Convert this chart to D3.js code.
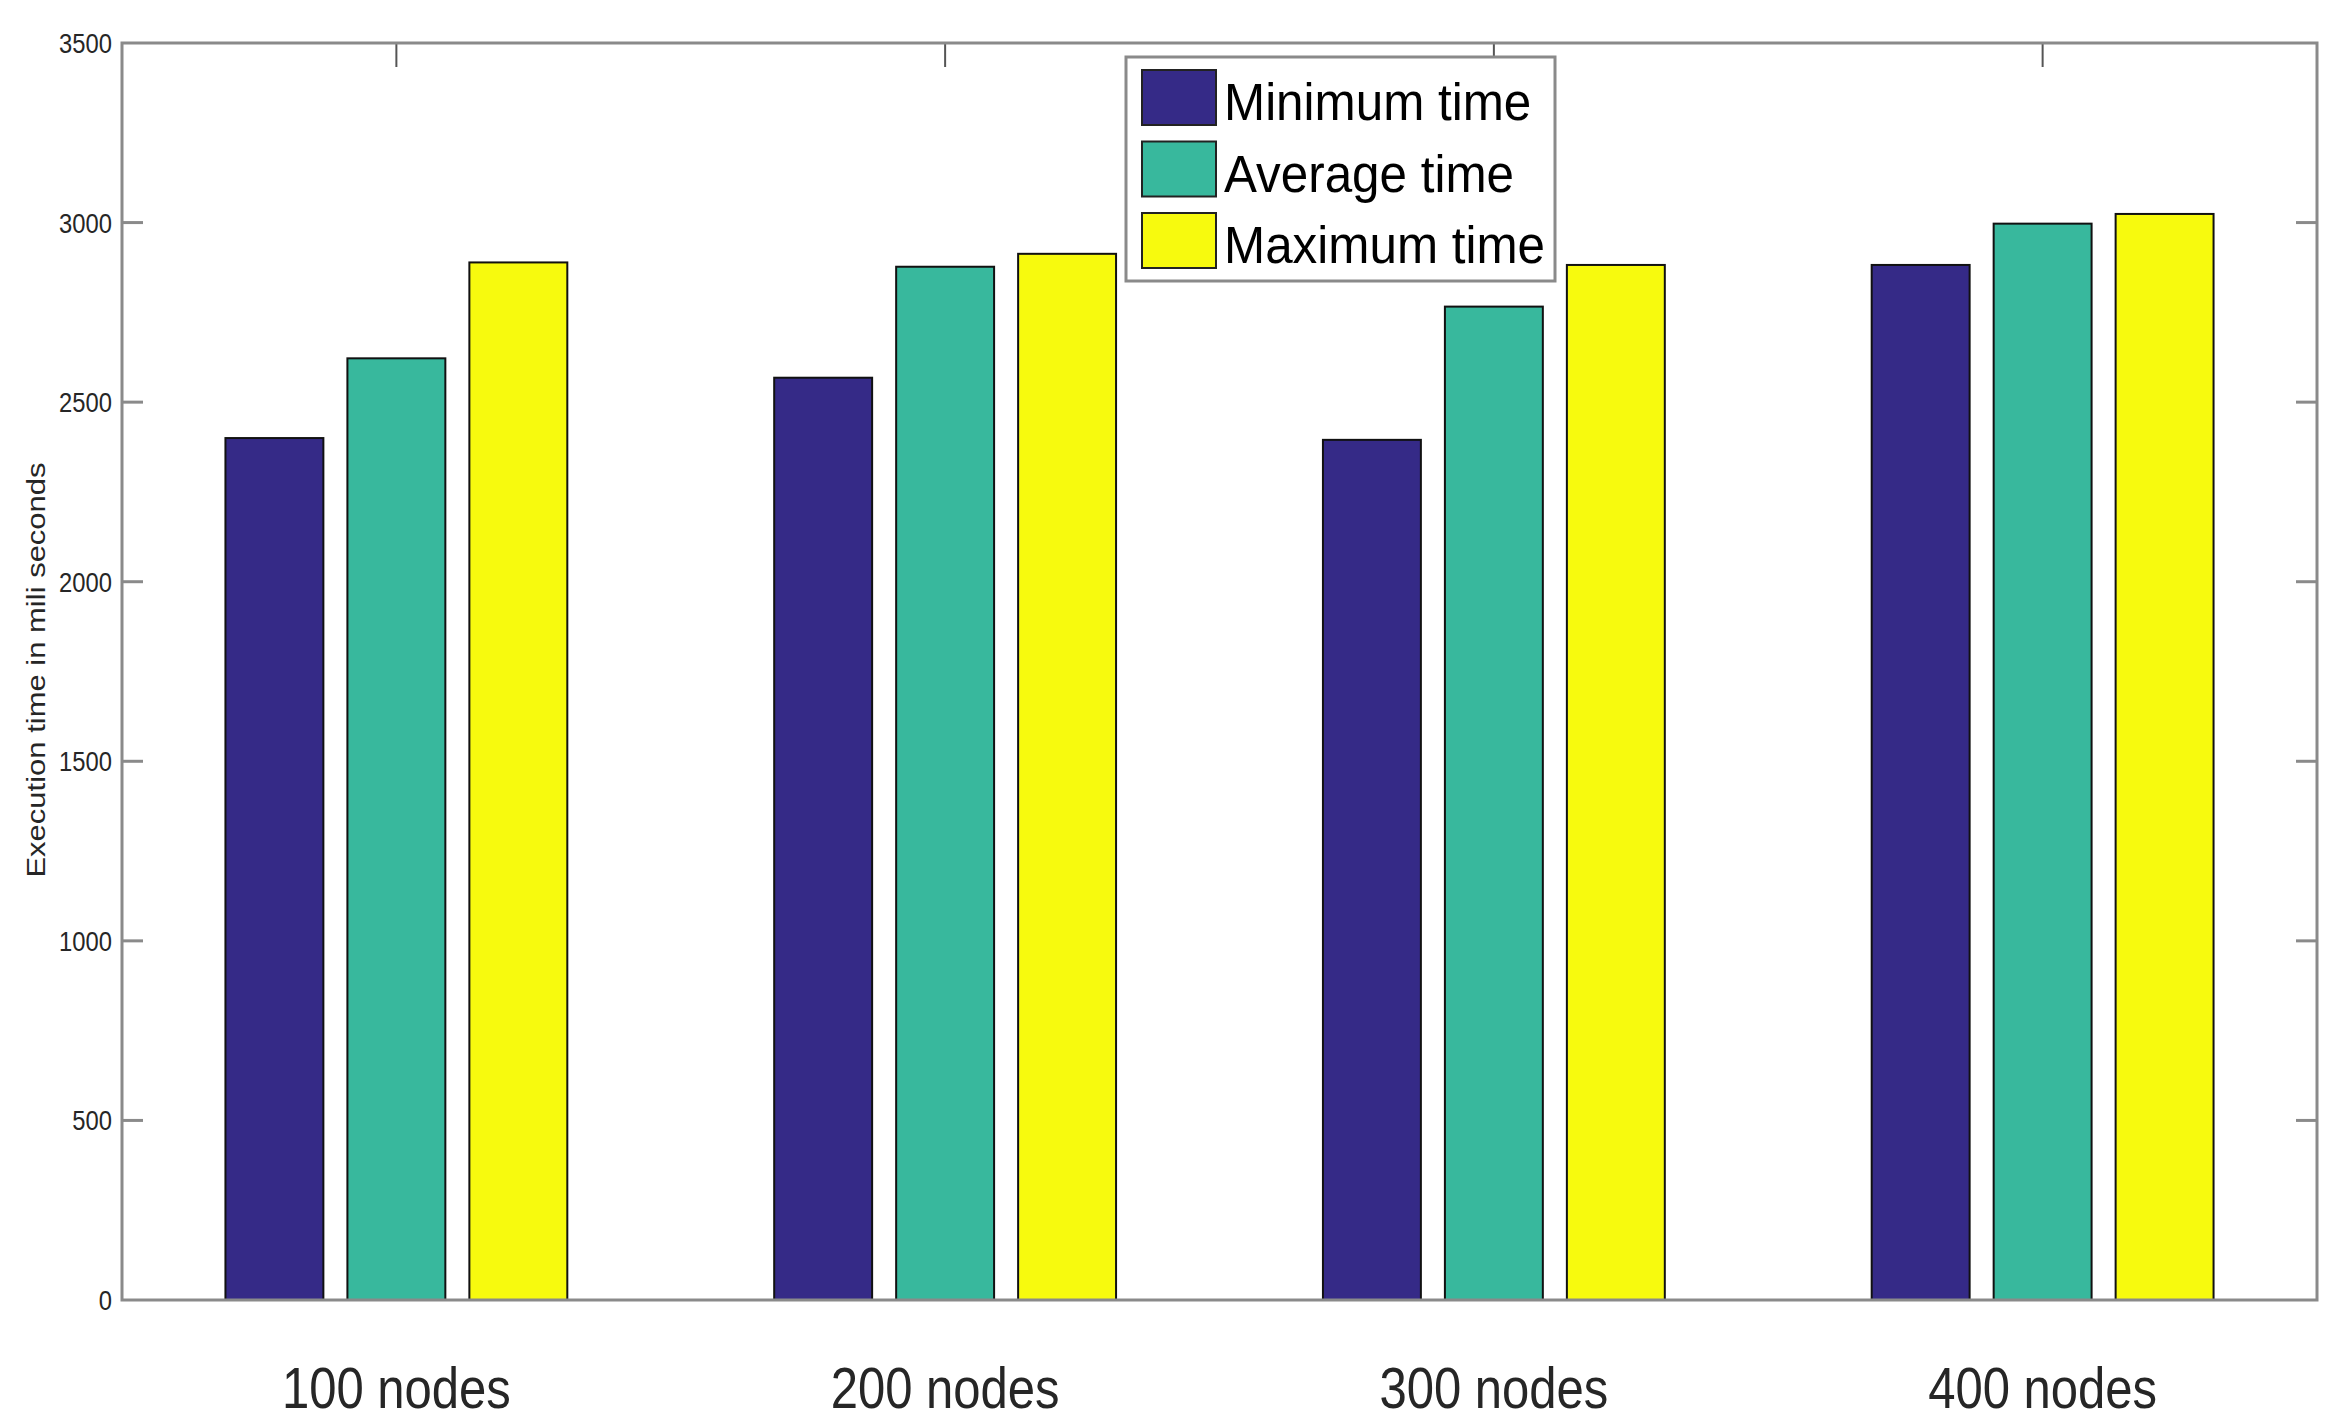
<!DOCTYPE html>
<html>
<head>
<meta charset="utf-8">
<script src="https://cdn.jsdelivr.net/npm/d3@7"></script>
<style>
  html, body { margin: 0; padding: 0; background: #ffffff; }
  svg { display: block; }
</style>
</head>
<body>
<svg id="chart" width="2352" height="1428"></svg>
<script>
// ---- data ----
const categories = ["100 nodes", "200 nodes", "300 nodes", "400 nodes"];
const seriesNames = ["Minimum time", "Average time", "Maximum time"];
const minTime = [2400, 2568, 2395, 2882];
const avgTime = [2622, 2877, 2766, 2997];
const maxTime = [2889, 2913, 2882, 3024];
const yTicks = [0, 500, 1000, 1500, 2000, 2500, 3000, 3500];
const yLabel = "Execution time in mili seconds";
const seriesColors = ["#352A87", "#38B89D", "#F7FA0E"];

const seriesValues = [minTime, avgTime, maxTime];

// ---- layout ----
const W = 2352, H = 1428;
const plot = { left: 122, right: 2317, top: 43, bottom: 1300 };
const axisColor = "#8a8a8a";
const font = "'Liberation Sans', Arial, Helvetica, sans-serif";

const svg = d3.select("#chart");

const y = d3.scaleLinear().domain([0, 3500]).range([plot.bottom, plot.top]);
const x0 = d3.scaleBand().domain(categories).range([plot.left, plot.right]).padding(0);
const groupSpan = x0.bandwidth() * 0.623;
const x1 = d3.scaleBand().domain(seriesNames).range([0, groupSpan]).paddingInner(0.197).paddingOuter(0);
const groupStart = c => x0(c) + (x0.bandwidth() - groupSpan) / 2;
const groupCenter = c => x0(c) + x0.bandwidth() / 2;

// ---- ticks (drawn underneath bars, like MATLAB's bottom layer) ----
const tickLen = 21;
const gTicks = svg.append("g");
// left & right ticks
gTicks.selectAll("line.yl").data(yTicks.slice(1, -1)).join("line")
  .attr("x1", plot.left).attr("x2", plot.left + tickLen)
  .attr("y1", d => y(d)).attr("y2", d => y(d))
  .attr("stroke", axisColor).attr("stroke-width", 3);
gTicks.selectAll("line.yr").data(yTicks.slice(1, -1)).join("line")
  .attr("x1", plot.right).attr("x2", plot.right - tickLen)
  .attr("y1", d => y(d)).attr("y2", d => y(d))
  .attr("stroke", axisColor).attr("stroke-width", 3);
// top & bottom ticks at group centers
gTicks.selectAll("line.xt").data(categories).join("line")
  .attr("x1", d => groupCenter(d)).attr("x2", d => groupCenter(d))
  .attr("y1", plot.top).attr("y2", plot.top + 24)
  .attr("stroke", "#555").attr("stroke-width", 2);
gTicks.selectAll("line.xb").data(categories).join("line")
  .attr("x1", d => groupCenter(d)).attr("x2", d => groupCenter(d))
  .attr("y1", plot.bottom).attr("y2", plot.bottom - 24)
  .attr("stroke", "#555").attr("stroke-width", 2);

// ---- bars ----
const gBars = svg.append("g");
seriesNames.forEach((s, si) => {
  gBars.selectAll("rect.s" + si).data(categories).join("rect")
    .attr("class", "s" + si)
    .attr("x", c => groupStart(c) + x1(s))
    .attr("width", x1.bandwidth())
    .attr("y", (c, i) => y(seriesValues[si][i]))
    .attr("height", (c, i) => y(0) - y(seriesValues[si][i]))
    .attr("fill", seriesColors[si])
    .attr("stroke", "#111")
    .attr("stroke-width", 2);
});

// ---- axis box ----
svg.append("rect")
  .attr("x", plot.left).attr("y", plot.top)
  .attr("width", plot.right - plot.left).attr("height", plot.bottom - plot.top)
  .attr("fill", "none").attr("stroke", axisColor).attr("stroke-width", 3);

// ---- y tick labels via d3 axis ----
const yAxis = d3.axisLeft(y).tickValues(yTicks).tickSize(0).tickPadding(0).tickFormat(d3.format("d"));
const gY = svg.append("g").attr("transform", `translate(${plot.left},0)`).call(yAxis);
gY.select(".domain").remove();
gY.selectAll(".tick text")
  .attr("x", 0).attr("dy", "0.34em")
  .attr("transform", "translate(-10,0) scale(0.85,1)")
  .style("font-family", font).style("font-size", "28px")
  .attr("fill", "#262626").attr("text-anchor", "end");

// ---- x category labels via d3 axis ----
const xAxis = d3.axisBottom(x0).tickSize(0).tickPadding(0);
const gX = svg.append("g").attr("transform", `translate(0,1408)`).call(xAxis);
gX.select(".domain").remove();
gX.selectAll(".tick text")
  .attr("y", 0).attr("dy", 0)
  .attr("transform", "scale(0.845,1)")
  .style("font-family", font).style("font-size", "58px")
  .attr("fill", "#262626").attr("text-anchor", "middle");

// ---- y axis title ----
svg.append("text")
  .attr("transform", "translate(44.5,670) rotate(-90) scale(1,0.86)")
  .attr("text-anchor", "middle")
  .style("font-family", font).style("font-size", "31px")
  .attr("fill", "#262626")
  .text(yLabel);

// ---- legend ----
const lg = svg.append("g");
lg.append("rect")
  .attr("x", 1126).attr("y", 57).attr("width", 429).attr("height", 224)
  .attr("fill", "#ffffff").attr("stroke", axisColor).attr("stroke-width", 3);
const rowY = d3.scalePoint().domain(seriesNames).range([70, 213]);
seriesNames.forEach((s, si) => {
  lg.append("rect")
    .attr("x", 1142).attr("y", rowY(s))
    .attr("width", 74).attr("height", 55)
    .attr("fill", seriesColors[si]).attr("stroke", "#222").attr("stroke-width", 2);
  lg.append("text")
    .attr("transform", `translate(1224,${rowY(s) + 50}) scale(0.95,1)`)
    .style("font-family", font).style("font-size", "52px")
    .attr("fill", "#000")
    .text(s);
});
</script>
</body>
</html>
